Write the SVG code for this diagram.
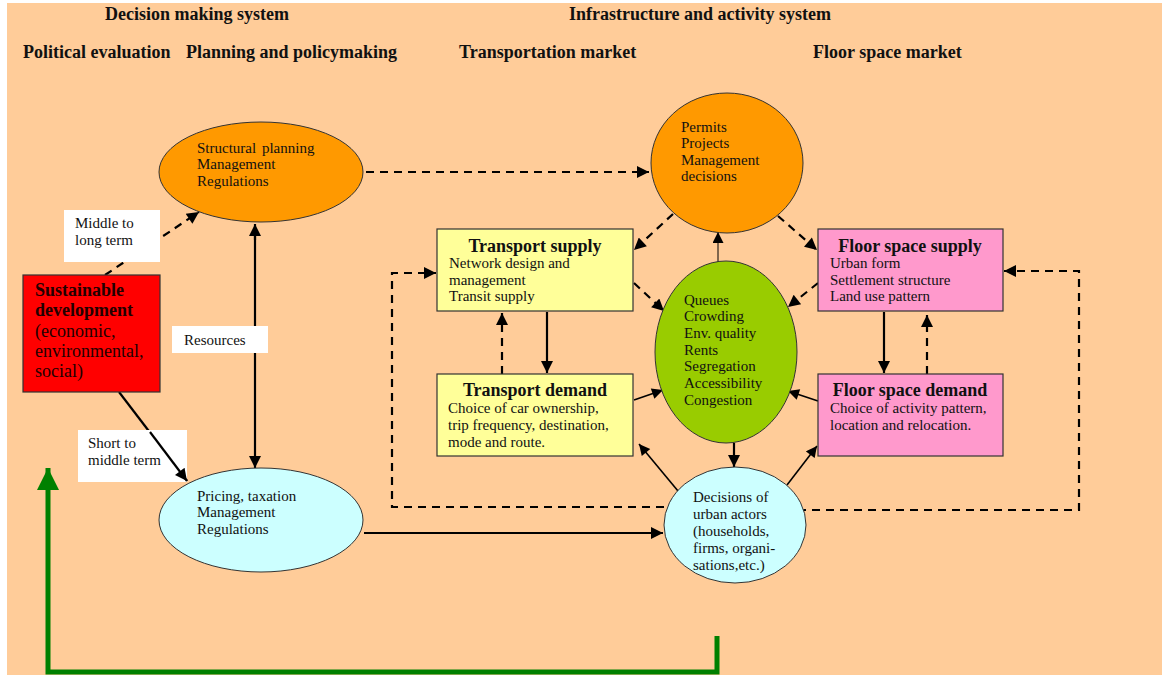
<svg xmlns="http://www.w3.org/2000/svg" width="1162" height="675" viewBox="0 0 1162 675">
<style>
  .t { font-family: "Liberation Serif", "Times New Roman", serif; fill: #111; }
  .h { font-size: 18px; font-weight: bold; }
  .b { font-size: 15px; }
  .bt { font-size: 18px; font-weight: bold; }
  .rb { font-size: 18px; fill: #220000; }
  .ell { stroke: #333; stroke-width: 1; }
  .solid { stroke: #000; stroke-width: 2.2; fill: none; }
  .thin { stroke: #000; stroke-width: 1.6; fill: none; }
  .dash { stroke: #000; stroke-width: 2.2; fill: none; stroke-dasharray: 8 6; }
  .box { stroke: #333; stroke-width: 1.2; }
  .lbl { fill: #fff; }
</style>
<defs>
  <marker id="ah" viewBox="0 0 10 10" refX="10" refY="5" markerWidth="14" markerHeight="12" markerUnits="userSpaceOnUse" orient="auto">
    <path d="M0,0 L10,5 L0,10 z" fill="#000"/>
  </marker>
  <marker id="ahs" viewBox="0 0 10 10" refX="10" refY="5" markerWidth="13" markerHeight="11" markerUnits="userSpaceOnUse" orient="auto">
    <path d="M0,0 L10,5 L0,10 z" fill="#000"/>
  </marker>
  <marker id="ahg" viewBox="0 0 10 10" refX="10" refY="5" markerWidth="24" markerHeight="22" markerUnits="userSpaceOnUse" orient="auto">
    <path d="M0,0 L10,5 L0,10 z" fill="#008000"/>
  </marker>
</defs>

<rect x="0" y="0" width="1162" height="675" fill="#fff"/>
<rect x="7" y="3" width="1155" height="672" fill="#FFCC99"/>

<g id="titles" class="t">
  <text class="h" x="197" y="20" text-anchor="middle">Decision making system</text>
  <text class="h" x="700" y="20" text-anchor="middle">Infrastructure and activity system</text>
  <text class="h" x="23" y="58">Political evaluation</text>
  <text class="h" x="186" y="58">Planning and policymaking</text>
  <text class="h" x="459" y="58">Transportation market</text>
  <text class="h" x="813" y="58">Floor space market</text>
</g>

<g id="connectors">
  <path class="dash" d="M366,172 H649" marker-end="url(#ah)"/>
  <path class="dash" d="M105,275 L199,212" marker-end="url(#ah)"/>
  <path class="solid" d="M119,392 L187,481" marker-end="url(#ah)"/>
  <path class="solid" d="M255,240 V224" marker-end="url(#ah)"/>
  <path class="solid" d="M255,230 V468" marker-end="url(#ah)"/>
  <path class="solid" d="M364,533 H663" marker-end="url(#ah)"/>
  <path class="dash" d="M673,214 L634,250" marker-end="url(#ah)"/>
  <path class="dash" d="M778,216 L817,250" marker-end="url(#ah)"/>
  <path class="dash" d="M634,283 L664,311" marker-end="url(#ah)"/>
  <path class="dash" d="M818,283 L788,307" marker-end="url(#ah)"/>
  <path stroke="#000" stroke-width="1" fill="none" d="M718,262 V232" marker-end="url(#ahs)"/>
  <path class="solid" d="M547,312 V373" marker-end="url(#ah)"/>
  <path class="dash" d="M502,374 V313" marker-end="url(#ah)"/>
  <path class="solid" d="M884,312 V373" marker-end="url(#ah)"/>
  <path class="dash" d="M927,374 V315" marker-end="url(#ah)"/>
  <path class="thin" d="M634,400 L663,390" marker-end="url(#ahs)"/>
  <path class="thin" d="M818,401 L788,391" marker-end="url(#ahs)"/>
  <path class="solid" d="M734,443 V467" marker-end="url(#ah)"/>
  <path class="thin" d="M678,491 L639,444" marker-end="url(#ahs)"/>
  <path class="thin" d="M787,485 L817,446" marker-end="url(#ahs)"/>
  <path class="dash" d="M664,507 H392 V273 H436" marker-end="url(#ah)"/>
  <path class="dash" d="M798,510 H1079 V271 H1004" marker-end="url(#ah)"/>
  <path stroke="#008000" stroke-width="5" fill="none" d="M717,636 V672 H48 V468" marker-end="url(#ahg)"/>
</g>

<g id="lbl-middle-long" class="t">
  <rect class="lbl" x="64" y="210" width="96" height="52"/>
  <text class="b" x="75" y="228">Middle to</text>
  <text class="b" x="75" y="245">long term</text>
</g>
<g id="lbl-resources" class="t">
  <rect class="lbl" x="172" y="326" width="96" height="27"/>
  <text class="b" x="184" y="345">Resources</text>
</g>
<g id="lbl-short-middle" class="t">
  <rect class="lbl" x="78" y="430" width="109" height="52"/>
  <text class="b" x="88" y="448">Short to</text>
  <text class="b" x="88" y="465">middle term</text>
</g>
<path class="solid" d="M150,432 L187,481" marker-end="url(#ah)"/>

<g id="sustainable" class="t">
  <rect x="23" y="275" width="137" height="117" fill="#FF0000" stroke="#333" stroke-width="1.2"/>
  <text class="rb" x="35" y="296" font-weight="bold">Sustainable</text>
  <text class="rb" x="35" y="316" font-weight="bold">development</text>
  <text class="rb" x="35" y="337">(economic,</text>
  <text class="rb" x="35" y="357">environmental,</text>
  <text class="rb" x="35" y="377">social)</text>
</g>

<g id="structural" class="t">
  <ellipse class="ell" cx="261" cy="172" rx="102" ry="50" fill="#FF9900"/>
  <text class="b" x="197" y="153" word-spacing="2">Structural planning</text>
  <text class="b" x="197" y="169">Management</text>
  <text class="b" x="197" y="186">Regulations</text>
</g>

<g id="pricing" class="t">
  <ellipse class="ell" cx="261" cy="520" rx="102" ry="52" fill="#CCFFFF"/>
  <text class="b" x="197" y="501">Pricing, taxation</text>
  <text class="b" x="197" y="517">Management</text>
  <text class="b" x="197" y="534">Regulations</text>
</g>

<g id="permits" class="t">
  <ellipse class="ell" cx="727" cy="163" rx="76" ry="70" fill="#FF9900"/>
  <text class="b" x="681" y="132">Permits</text>
  <text class="b" x="681" y="148">Projects</text>
  <text class="b" x="681" y="165">Management</text>
  <text class="b" x="681" y="181">decisions</text>
</g>

<g id="market" class="t">
  <ellipse class="ell" cx="726" cy="352" rx="71" ry="91" fill="#99CC00"/>
  <text class="b" x="684" y="305">Queues</text>
  <text class="b" x="684" y="321">Crowding</text>
  <text class="b" x="684" y="338">Env. quality</text>
  <text class="b" x="684" y="355">Rents</text>
  <text class="b" x="684" y="371">Segregation</text>
  <text class="b" x="684" y="388">Accessibility</text>
  <text class="b" x="684" y="405">Congestion</text>
</g>

<g id="decisions" class="t">
  <ellipse class="ell" cx="735" cy="525" rx="71" ry="58" fill="#CCFFFF"/>
  <text class="b" x="693" y="502">Decisions of</text>
  <text class="b" x="693" y="519">urban actors</text>
  <text class="b" x="693" y="536">(households,</text>
  <text class="b" x="693" y="553">firms, organi-</text>
  <text class="b" x="693" y="570">sations,etc.)</text>
</g>

<g id="transport-supply" class="t">
  <rect class="box" x="437" y="229" width="196" height="82" fill="#FFFF99"/>
  <text class="bt" x="535" y="252" text-anchor="middle">Transport supply</text>
  <text class="b" x="449" y="268">Network design and</text>
  <text class="b" x="449" y="285">management</text>
  <text class="b" x="449" y="301">Transit supply</text>
</g>

<g id="transport-demand" class="t">
  <rect class="box" x="437" y="374" width="196" height="82" fill="#FFFF99"/>
  <text class="bt" x="535" y="396" text-anchor="middle">Transport demand</text>
  <text class="b" x="448" y="413">Choice of car ownership,</text>
  <text class="b" x="448" y="430">trip frequency, destination,</text>
  <text class="b" x="448" y="447">mode and route.</text>
</g>

<g id="floor-supply" class="t">
  <rect class="box" x="818" y="229" width="185" height="82" fill="#FF99CC"/>
  <text class="bt" x="910" y="252" text-anchor="middle">Floor space supply</text>
  <text class="b" x="830" y="268">Urban form</text>
  <text class="b" x="830" y="285">Settlement structure</text>
  <text class="b" x="830" y="301">Land use pattern</text>
</g>

<g id="floor-demand" class="t">
  <rect class="box" x="818" y="374" width="185" height="82" fill="#FF99CC"/>
  <text class="bt" x="910" y="396" text-anchor="middle">Floor space demand</text>
  <text class="b" x="830" y="413">Choice of activity pattern,</text>
  <text class="b" x="830" y="430">location and relocation.</text>
</g>
</svg>
